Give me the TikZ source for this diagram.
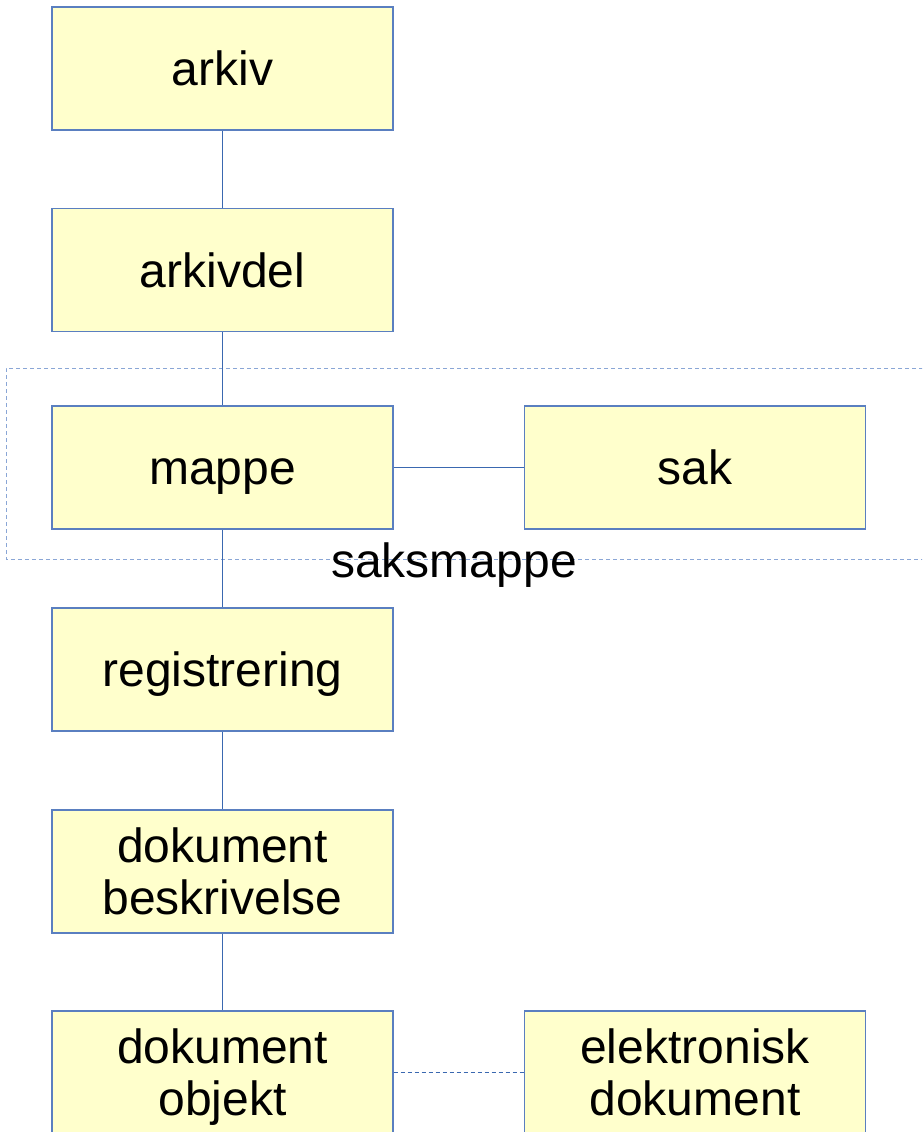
\documentclass[tikz,border=0pt]{standalone}
\usepackage{fontspec}
\setmainfont{Liberation Sans}
\definecolor{boxfill}{HTML}{FFFFCC}
\definecolor{boxline}{HTML}{5A7FC0}
\definecolor{conn}{HTML}{3A68B0}
\definecolor{grp}{HTML}{8AA6D6}
\begin{document}
\begin{tikzpicture}[x=1pt,y=-1pt,
  entity/.style={draw=boxline,line width=1.1pt,fill=boxfill,minimum width=341pt,minimum height=123pt,inner sep=0pt,align=center,font=\fontsize{48}{52}\selectfont,text height=36pt,text depth=2pt},
  entity2/.style={entity,text height=87pt,text depth=2pt},
  link/.style={draw=conn,line width=0.9pt},
  dlink/.style={draw=conn,line width=0.9pt,dash pattern=on 4pt off 3pt},
  group/.style={draw=grp,line width=1pt,dash pattern=on 4pt off 3pt}]
\useasboundingbox (0,0) rectangle (922,1132);
\clip (0,0) rectangle (922,1132);
\draw[group] (930,368) -- (6,368) -- (6,559) -- (930,559);
\node[font=\fontsize{48}{52}\selectfont,anchor=base,inner sep=0pt] (lbl) at (454,577) {saksmappe};
\node[entity] (arkiv) at (222.5,68.5) {arkiv};
\node[entity] (arkivdel) at (222.5,270) {arkivdel};
\node[entity] (mappe) at (222.5,467.5) {mappe};
\node[entity] (sak) at (695,467.5) {sak};
\node[entity] (reg) at (222.5,669.5) {registrering};
\node[entity2] (dokb) at (222.5,871.5) {dokument\\beskrivelse};
\node[entity2] (doko) at (222.5,1072.5) {dokument\\objekt};
\node[entity2] (elek) at (695,1072.5) {elektronisk\\dokument};
\draw[link] (arkiv) -- (arkivdel);
\draw[link] (arkivdel) -- (mappe);
\draw[link] (mappe) -- (sak);
\draw[link] (mappe) -- (reg);
\draw[link] (reg) -- (dokb);
\draw[link] (dokb) -- (doko);
\draw[dlink] (doko) -- (elek);
\end{tikzpicture}
\end{document}
